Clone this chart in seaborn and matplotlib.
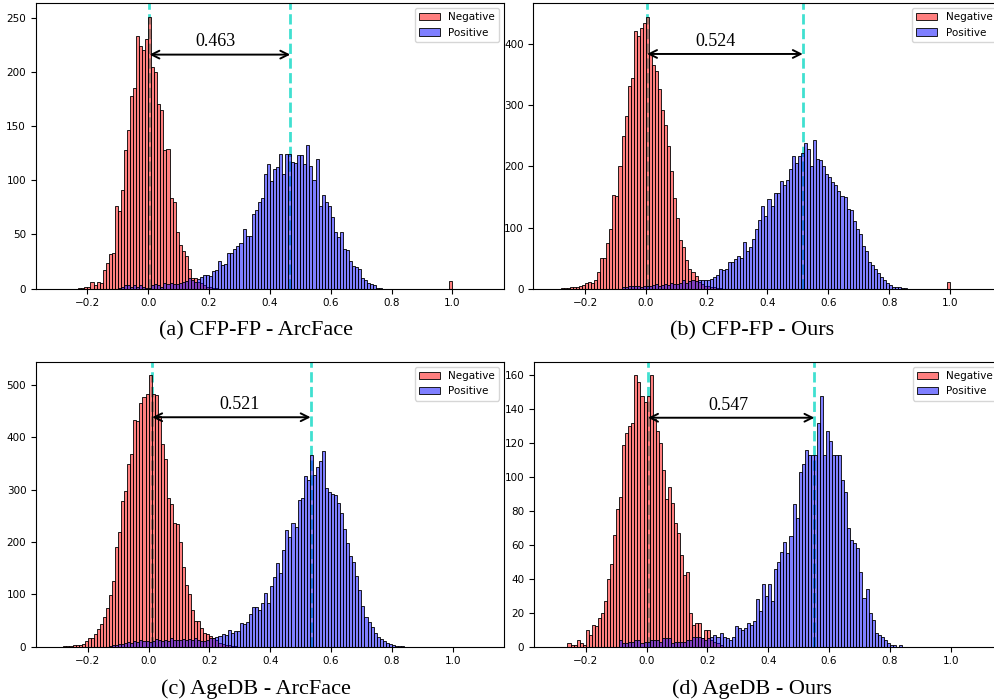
import numpy as np
import pandas as pd
import seaborn as sns
import matplotlib.pyplot as plt

# histogram bins: 0.01 wide from -0.30 to 1.10
bin_edges = [round(-0.30 + 0.01 * i, 2) for i in range(141)]

# ---- (a) CFP-FP - ArcFace ----
a_neg_start = -0.23
a_neg = [1, 1, 2, 2, 6, 3, 6, 5, 17, 24, 32, 33, 76, 72, 91, 128, 146, 178, 185, 233,
         224, 220, 230, 251, 205, 200, 170, 165, 128, 129, 84, 80, 52, 40, 35, 30, 18, 10,
         10, 6, 5, 3, 2, 2, 1, 1]
a_neg_far = {0.99: 7}
a_pos_start = -0.10
a_pos = [1, 2, 3, 3, 2, 3, 2, 3, 2, 1, 1, 3, 4, 3, 2, 5, 4, 5, 4, 4,
         5, 6, 7, 10, 8, 6, 9, 11, 13, 13, 12, 16, 17, 26, 22, 23, 33, 33, 37, 39,
         42, 55, 49, 49, 69, 73, 80, 84, 106, 115, 99, 110, 112, 124, 106, 124, 124, 117, 116, 123,
         123, 115, 133, 113, 100, 120, 76, 86, 80, 76, 66, 52, 48, 52, 37, 36, 26, 21, 20, 18,
         10, 8, 5, 4, 3, 1, 1]

# ---- (b) CFP-FP - Ours ----
b_neg_start = -0.28
b_neg = [1, 1, 1, 2, 2, 3, 4, 6, 9, 11, 10, 15, 28, 50, 50, 74, 97, 154, 152, 200,
         250, 282, 331, 344, 422, 414, 427, 435,
         445, 386, 366, 356, 326, 293, 268, 233, 192, 148, 115, 80, 68, 47, 32, 28, 20, 11,
         8, 5, 4, 3, 2, 1, 1]
b_neg_far = {0.99: 11}
b_pos_start = -0.08
b_pos = [2, 3, 4, 5, 4, 4, 3, 4, 5, 4, 6, 7, 5, 6, 8, 6, 10, 7, 8, 9, 14, 10, 12, 14, 13,
         14, 15, 15, 14, 16, 19, 22, 32, 30, 32, 43, 43, 48, 54, 51, 76, 62, 69, 81, 97,
         113, 135, 119, 147, 135, 157, 157, 176, 170, 177, 195, 217, 206, 217, 222, 238, 228, 200, 243, 212,
         210, 200, 188, 183, 175, 170, 160, 152, 150, 130, 128, 110, 97, 90, 70, 61, 44, 39, 32, 26,
         19, 14, 10, 6, 2, 3, 2, 1, 1]

# ---- (c) AgeDB - ArcFace ----
c_neg_start = -0.28
c_neg = [1, 2, 2, 3, 4, 4, 6, 10, 17, 17, 24, 34, 44, 57, 73, 98, 126, 191, 219, 278,
         297, 348, 367, 432, 430, 465, 476, 483,
         518, 483, 481, 441, 386, 358, 284, 273, 236, 234, 199, 152, 118, 100, 70, 49, 49, 36,
         27, 25, 20, 16, 12, 8, 6, 4, 3, 2, 1]
c_neg_far = {}
c_pos_start = -0.13
c_pos = [2, 3, 4, 5, 6, 8, 9, 8, 10, 9, 13, 10, 11, 9, 10, 14, 12, 10, 12, 11,
         16, 13, 13, 12, 14, 13, 15, 13, 16, 13,
         10, 11, 13, 17, 16, 19, 21, 24, 22, 32, 27, 30, 30, 46, 43, 48, 62, 75,
         76, 71, 83, 103, 84, 116, 133, 160, 141, 184, 222, 210, 236, 229, 281, 283, 325, 319,
         365, 328, 343, 354, 374, 303, 295, 292, 289, 274, 255, 224, 198, 173, 162, 135, 109,
         78, 57, 48, 37, 27, 19, 14, 11, 8, 5, 3, 2, 2, 1]

# ---- (d) AgeDB - Ours ----
d_neg_start = -0.26
d_neg = [2, 1, 1, 4, 2, 1, 10, 7, 13, 12, 17, 20, 27, 40, 49, 66, 81, 88, 119, 126,
         130, 132, 160, 156, 148, 144, 148, 160, 134, 127, 120, 104, 87, 94, 85, 73, 67, 54, 42, 44,
         20, 13, 14, 14, 5, 10, 10, 4, 3, 2, 1]
d_neg_far = {}
d_pos_start = -0.09
d_pos = [4, 2, 2, 3, 3, 4, 4, 2, 3, 3, 4, 4, 4, 3, 5, 5, 5, 2, 3, 3, 3, 3, 4, 4, 6, 6, 6,
         5, 4, 5, 6, 7, 6, 8, 6, 5, 4, 6, 12, 11, 10, 11, 14, 13, 15, 28, 21,
         37, 30, 37, 27, 46, 50, 56, 62, 55, 65, 84, 76, 103, 108, 116, 113, 113, 113, 132, 148,
         113, 127, 121, 113, 113, 113, 98, 91, 70, 63, 61, 58, 44, 29, 34, 20, 16, 8, 7, 6,
         4, 2, 1, 1, 0, 1]

captions = ["(a) CFP-FP - ArcFace", "(b) CFP-FP - Ours", "(c) AgeDB - ArcFace", "(d) AgeDB - Ours"]
neg_means = [0.004, 0.004, 0.012, 0.005]
pos_means = [0.467, 0.516, 0.533, 0.552]
gap_labels = ["0.463", "0.524", "0.521", "0.547"]
arrow_y = [216, 384, 438, 135]
label_x = [0.22, 0.23, 0.30, 0.27]

panels = [
    (a_neg_start, a_neg, a_neg_far, a_pos_start, a_pos),
    (b_neg_start, b_neg, b_neg_far, b_pos_start, b_pos),
    (c_neg_start, c_neg, c_neg_far, c_pos_start, c_pos),
    (d_neg_start, d_neg, d_neg_far, d_pos_start, d_pos),
]


def full_counts(start, counts, far=None):
    # place the read-off counts onto the common bin grid
    w = np.zeros(len(bin_edges) - 1)
    i0 = int(round((start - bin_edges[0]) / 0.01))
    w[i0:i0 + len(counts)] = counts
    if far:
        for b, c in far.items():
            w[int(round((b - bin_edges[0]) / 0.01))] += c
    return w


centers = np.array(bin_edges[:-1]) + 0.005

fig = plt.figure(figsize=(9.95, 7), dpi=100)
ax_rects = [
    [0.0359, 0.5876, 0.4707, 0.408],
    [0.5360, 0.5876, 0.4707, 0.408],
    [0.0362, 0.0761, 0.4707, 0.4071],
    [0.5367, 0.0761, 0.4707, 0.4071],
]
cap_pos = [(256, 335), (752, 335), (256, 694), (752, 694)]

for k, (ns, nc, nf, ps, pc) in enumerate(panels):
    ax = fig.add_axes(ax_rects[k])
    neg_df = pd.DataFrame({"score": centers, "count": full_counts(ns, nc, nf)})
    pos_df = pd.DataFrame({"score": centers, "count": full_counts(ps, pc)})
    sns.histplot(data=neg_df, x="score", weights="count", bins=bin_edges,
                 color="red", alpha=0.5, edgecolor="black", linewidth=0.6,
                 label="Negative", ax=ax)
    sns.histplot(data=pos_df, x="score", weights="count", bins=bin_edges,
                 color="blue", alpha=0.5, edgecolor="black", linewidth=0.6,
                 label="Positive", ax=ax)

    ax.axvline(neg_means[k], color="turquoise", linestyle="--", lw=2, zorder=0.5)
    ax.axvline(pos_means[k], color="turquoise", linestyle="--", lw=2, zorder=0.5)
    ax.annotate("", xy=(pos_means[k], arrow_y[k]), xytext=(neg_means[k], arrow_y[k]),
                arrowprops=dict(arrowstyle="<->", color="black", lw=1.4,
                                shrinkA=0, shrinkB=0, mutation_scale=14))
    ax.annotate(gap_labels[k], xy=(label_x[k], arrow_y[k]), xytext=(0, 3),
                textcoords="offset points", ha="center", va="bottom",
                fontsize=13, family="Liberation Serif")

    ax.set_xlabel("")
    ax.set_ylabel("")
    ax.tick_params(labelsize=7.5, length=3.5, width=0.8)
    ax.legend(loc="upper right", fontsize=7.5)
    fig.text(cap_pos[k][0] / 995, 1 - cap_pos[k][1] / 700, captions[k],
             ha="center", va="baseline", fontsize=16, family="Liberation Serif")

fig.savefig("out.png", dpi=100)
